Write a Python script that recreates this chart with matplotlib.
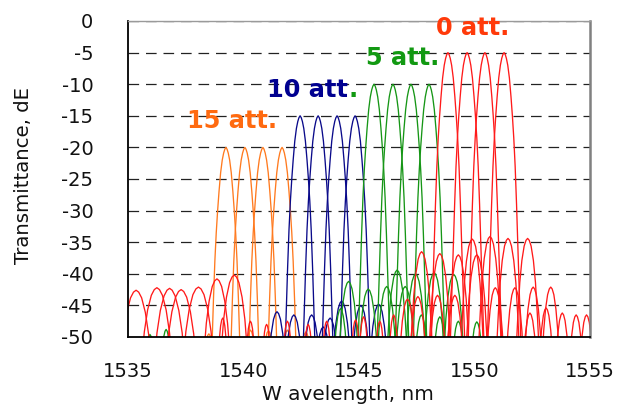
import numpy as np
import matplotlib
matplotlib.use("Agg")
import matplotlib.pyplot as plt

# ---------------- data ----------------
# channel centre wavelengths (nm) and peak transmittance (dB)
orange_centres = [1539.24, 1540.06, 1540.84, 1541.67]
blue_centres = [1542.45, 1543.23, 1544.05, 1544.83]
green_centres = [1545.65, 1546.47, 1547.25, 1548.03]
red_centres = [1548.85, 1549.68, 1550.45, 1551.28]
orange_peak = -20
blue_peak = -15
green_peak = -10
red_peak = -5

# main-lobe profile: offset from centre (nm) -> drop (dB)
lobe_offsets = [0, 0.05, 0.10, 0.16, 0.23, 0.30, 0.36, 0.42, 0.48, 0.54, 0.60, 0.66, 0.72, 0.78]
lobe_drops = [0, -0.3, -0.9, -2.0, -4.0, -7.0, -10.0, -13.5, -18, -24, -31, -38, -45, -52]

# side-lobe bump profile: offset (in bump widths) -> drop (dB)
bump_offsets = [-0.5, -0.42, -0.34, -0.25, -0.15, -0.07, 0, 0.07, 0.15, 0.25, 0.34, 0.42, 0.5]
bump_drops = [-18, -12, -7, -3.5, -1.2, -0.3, 0, -0.3, -1.2, -3.5, -7, -12, -18]

# side lobes: centre (nm), top level (dB), width (nm)
red_side_centres = [1535.35, 1536.25, 1536.8, 1537.3, 1538.05, 1538.85, 1539.6,
                    1539.1, 1540.3, 1541.0, 1541.9, 1542.8, 1543.6, 1544.85, 1545.2, 1545.9, 1546.5,
                    1547.71, 1548.5, 1549.3, 1550.1,
                    1547.1, 1547.55, 1548.4, 1549.15,
                    1549.9, 1550.67, 1551.45, 1552.3,
                    1550.9, 1551.75, 1552.54, 1553.3,
                    1552.4, 1553.1, 1553.8, 1554.4, 1554.85]
red_side_levels = [-42.6, -42.2, -42.3, -42.5, -42.1, -40.8, -40.2,
                   -47, -47.5, -48, -47.5, -48, -47.5, -47.3, -46.8, -47.5, -46.5,
                   -36.5, -36.8, -37, -37,
                   -44, -43.6, -43.4, -43.4,
                   -34.5, -34.1, -34.4, -34.4,
                   -42.2, -42.2, -42.1, -42.1,
                   -46.2, -45.4, -46.2, -46.5, -46.5]
red_side_widths = [1.6, 1.6, 1.6, 1.6, 1.6, 1.35, 1.35,
                   0.6, 0.6, 0.6, 0.6, 0.6, 0.6, 0.6, 0.6, 0.6, 0.6,
                   1.0, 1.0, 1.0, 1.0,
                   0.9, 0.9, 0.9, 0.9,
                   1.0, 1.0, 1.0, 1.0,
                   0.9, 0.9, 0.9, 0.9,
                   0.8, 0.8, 0.8, 0.8, 0.8]

green_side_centres = [1546.65, 1547.45, 1548.25, 1549.1,
                      1544.55, 1545.4, 1546.2, 1547.0,
                      1544.2, 1547.7, 1548.5, 1549.3, 1550.1,
                      1535.95, 1536.65]
green_side_levels = [-39.4, -40.0, -39.8, -40.1,
                     -41.2, -42.4, -42.0, -42.0,
                     -45.5, -46.5, -46.8, -47.5, -47.6,
                     -49.6, -48.8]
green_side_widths = [1.0, 1.0, 1.0, 1.0,
                     1.0, 1.0, 1.0, 1.0,
                     0.8, 0.8, 0.8, 0.8, 0.8,
                     0.7, 0.7]

blue_side_centres = [1543.45, 1544.25, 1545.08, 1545.85,
                     1541.45, 1542.18, 1542.95, 1543.75]
blue_side_levels = [-48.4, -44.3, -45.0, -44.8,
                    -46.0, -46.5, -46.5, -47.0]
blue_side_widths = [1.0, 1.0, 1.0, 1.0, 1.0, 1.0, 1.0, 1.0]

orange_side_centres = [1540.3, 1541.08, 1541.9, 1542.7, 1538.5]
orange_side_levels = [-48.9, -49.0, -48.9, -49.2, -49.5]
orange_side_widths = [0.8, 0.8, 0.8, 0.8, 0.8]

x_ticks = [1535, 1540, 1545, 1550, 1555]
x_tick_labels = ["1535", "1540", "1545", "1550", "1555"]
y_ticks = [0, -5, -10, -15, -20, -25, -30, -35, -40, -45, -50]
y_tick_labels = ["0", "-5", "-10", "-15", "-20", "-25", "-30", "-35", "-40", "-45", "-50"]

labels = ["15 att.", "10 att", "5 att.", "0 att."]
label_x = [1539.5, 1542.78, 1546.9, 1549.9]
label_y = [-16.9, -12.0, -7.0, -2.2]

# ---------------- drawing ----------------
c_orange = "#ff7a1f"
c_blue = "#0a0a8a"
c_green = "#169616"
c_red = "#ff1a1a"
lab_colors = ["#ff6a10", "#000090", "#129912", "#ff3a0a"]

fig = plt.figure(figsize=(6.24, 4.08), dpi=100)
ax = fig.add_axes([128 / 624, (408 - 337) / 408, 462 / 624, 316 / 408])

off = np.array(lobe_offsets)
drp = np.array(lobe_drops)
lobe_x = np.concatenate([-off[::-1], off[1:]])
lobe_y = np.concatenate([drp[::-1], drp[1:]])
bx = np.array(bump_offsets)
by = np.array(bump_drops)

lw = 0.95
groups = [
    (orange_centres, orange_peak, orange_side_centres, orange_side_levels, orange_side_widths, c_orange),
    (blue_centres, blue_peak, blue_side_centres, blue_side_levels, blue_side_widths, c_blue),
    (green_centres, green_peak, green_side_centres, green_side_levels, green_side_widths, c_green),
    (red_centres, red_peak, red_side_centres, red_side_levels, red_side_widths, c_red),
]
for centres, peak, sc, sl, sw, col in groups:
    for c, l, w in zip(sc, sl, sw):
        ax.plot(c + w * bx, l + by, color=col, lw=lw, zorder=2)
    for c in centres:
        ax.plot(c + lobe_x, peak + lobe_y, color=col, lw=lw, zorder=2)

ax.set_xlim(1535, 1555)
ax.set_ylim(-50, 0)
ax.set_xticks(x_ticks)
ax.set_xticklabels(x_tick_labels)
ax.set_yticks(y_ticks)
ax.set_yticklabels(y_tick_labels)
ax.tick_params(axis="both", length=0, labelsize=14, colors="#111111")
ax.tick_params(axis="y", pad=25)
ax.tick_params(axis="x", pad=18)

for yv in y_ticks[:-1]:
    ax.axhline(yv, color="#222222", lw=0.9, ls=(0, (8.5, 5.5)), zorder=1)

ax.spines["left"].set_color("black")
ax.spines["left"].set_linewidth(1.3)
ax.spines["bottom"].set_color("black")
ax.spines["bottom"].set_linewidth(1.3)
ax.spines["right"].set_color("#808080")
ax.spines["right"].set_linewidth(1.8)
ax.spines["top"].set_color("#9a9a9a")
ax.spines["top"].set_linewidth(1.0)

ax.set_xlabel("W avelength, nm", fontsize=14.4, color="#111111")
ax.xaxis.set_label_coords(0.476, -0.152)
ax.set_ylabel("Transmittance, dE", fontsize=14.2, color="#111111")
ax.yaxis.set_label_coords(-0.205, 0.51)

for i, (t, xv, yv, col) in enumerate(zip(labels, label_x, label_y, lab_colors)):
    txt = ax.text(xv, yv, t, color=col, fontsize=17.3, fontweight="bold",
                  ha="center", va="baseline", zorder=5)
    if i == 1:
        # the full stop after "10 att" is printed in green in the original
        ax.annotate(".", xy=(1, 0), xycoords=txt, ha="left", va="bottom",
                    color=lab_colors[2], fontsize=17.3, fontweight="bold", zorder=5)

fig.savefig("out.png", dpi=100)
